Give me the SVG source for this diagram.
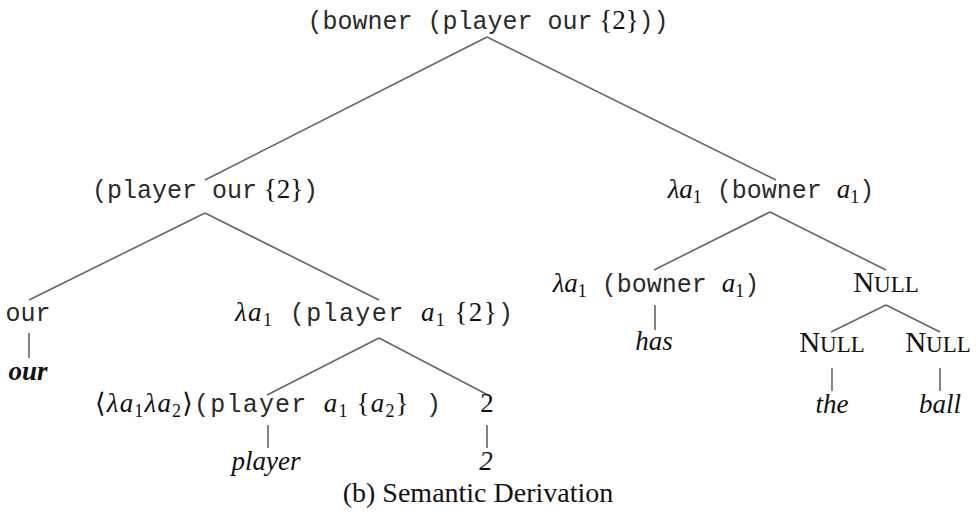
<svg xmlns="http://www.w3.org/2000/svg" width="978" height="516" viewBox="0 0 978 516">
<style>
text{fill:#111;text-anchor:middle;font-family:"Liberation Serif","DejaVu Serif",serif;font-size:27px}
.tt{font-family:"Liberation Mono","DejaVu Sans Mono",monospace;font-size:25px;fill:#2a2a2a}
.it{font-style:italic}
.sub{font-size:18px;font-style:normal}
.nl{font-size:29px}
.sc{font-size:23px}
.cap{font-size:28px}
#connectors line{stroke:#666;stroke-width:1.6;fill:none}
</style>
<rect width="978" height="516" fill="#fff"/>
<g id="connectors">
<line x1="487" y1="37" x2="205" y2="180"/>
<line x1="487" y1="37" x2="776" y2="180"/>
<line x1="205" y1="213" x2="29" y2="300"/>
<line x1="205" y1="213" x2="379" y2="300"/>
<line x1="770" y1="212" x2="654" y2="270"/>
<line x1="770" y1="212" x2="886" y2="270"/>
<line x1="29" y1="333" x2="29" y2="358"/>
<line x1="379" y1="338" x2="267" y2="395"/>
<line x1="379" y1="338" x2="488" y2="395"/>
<line x1="655" y1="305" x2="655" y2="330"/>
<line x1="886" y1="305" x2="831" y2="332"/>
<line x1="886" y1="305" x2="940" y2="332"/>
<line x1="268" y1="425" x2="268" y2="448"/>
<line x1="487" y1="425" x2="487" y2="448"/>
<line x1="832" y1="368" x2="832" y2="391"/>
<line x1="940" y1="368" x2="940" y2="391"/>
</g>
<g id="root"><text x="488" y="29"><tspan class="tt">(bowner (player</tspan><tspan class="tt"> our</tspan> {2}<tspan class="tt">))</tspan></text></g>
<g id="n_player_our"><text x="205" y="198"><tspan class="tt">(player</tspan><tspan class="tt"> our</tspan> {2}<tspan class="tt">)</tspan></text></g>
<g id="n_lambda_bowner"><text x="771" y="198"><tspan class="it">λa</tspan><tspan class="sub" dy="5">1</tspan><tspan class="tt" dy="-5"> (bowner </tspan><tspan class="it">a</tspan><tspan class="sub" dy="5">1</tspan><tspan class="tt" dy="-5">)</tspan></text></g>
<g id="n_our"><text x="28" y="321" class="tt">our</text></g>
<g id="n_our_word"><text x="28" y="380" class="it" font-weight="bold">our</text></g>
<g id="n_lambda_player"><text x="374" y="321" textLength="278" lengthAdjust="spacing"><tspan class="it">λa</tspan><tspan class="sub" dy="5">1</tspan><tspan class="tt" dy="-5"> (player </tspan><tspan class="it">a</tspan><tspan class="sub" dy="5">1</tspan><tspan dy="-5"> {2}</tspan><tspan class="tt">)</tspan></text></g>
<g id="n_lambda2_player"><text x="268" y="412" textLength="346" lengthAdjust="spacing">⟨<tspan class="it">λa</tspan><tspan class="sub" dy="5">1</tspan><tspan class="it" dy="-5">λa</tspan><tspan class="sub" dy="5">2</tspan><tspan dy="-5">⟩</tspan><tspan class="tt">(player </tspan><tspan class="it">a</tspan><tspan class="sub" dy="5">1</tspan><tspan dy="-5"> {</tspan><tspan class="it">a</tspan><tspan class="sub" dy="5">2</tspan><tspan dy="-5">}</tspan><tspan class="tt"> )</tspan></text></g>
<g id="n_player_word"><text x="266" y="470" class="it">player</text></g>
<g id="n_two"><text x="487" y="412">2</text></g>
<g id="n_two_word"><text x="486" y="470" class="it">2</text></g>
<g id="n_lambda_bowner2"><text x="656" y="292"><tspan class="it">λa</tspan><tspan class="sub" dy="5">1</tspan><tspan class="tt" dy="-5"> (bowner </tspan><tspan class="it">a</tspan><tspan class="sub" dy="5">1</tspan><tspan class="tt" dy="-5">)</tspan></text></g>
<g id="n_has"><text x="654" y="350" class="it">has</text></g>
<g id="n_null"><text x="886" y="292" class="nl">N<tspan class="sc">ULL</tspan></text></g>
<g id="n_null_left"><text x="832" y="352" class="nl">N<tspan class="sc">ULL</tspan></text></g>
<g id="n_null_right"><text x="938" y="352" class="nl">N<tspan class="sc">ULL</tspan></text></g>
<g id="n_the"><text x="832" y="413" class="it">the</text></g>
<g id="n_ball"><text x="940" y="413" class="it">ball</text></g>
<g id="caption"><text x="478" y="502" class="cap">(b)  Semantic Derivation</text></g>
</svg>
